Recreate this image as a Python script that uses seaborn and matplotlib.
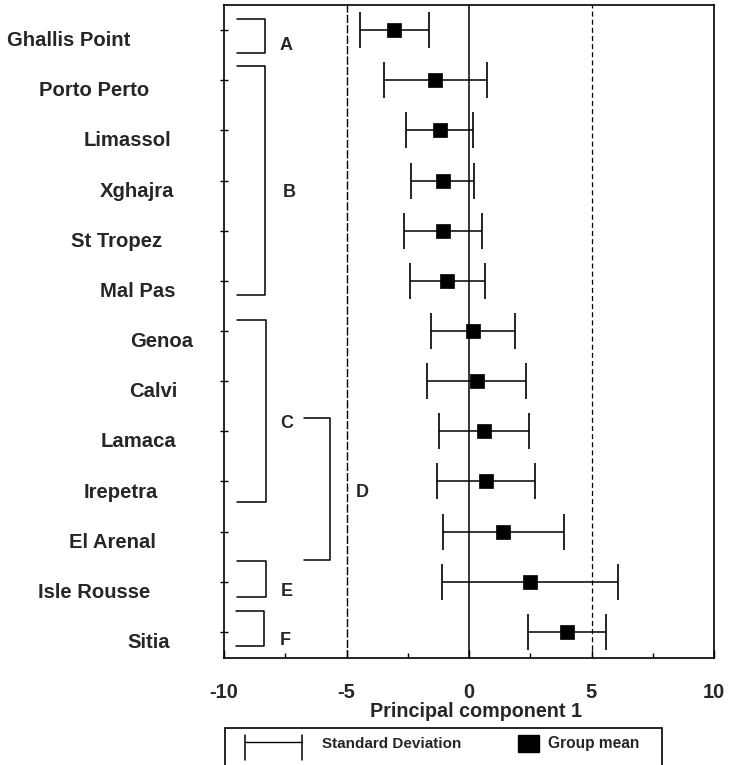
import numpy as np
import pandas as pd
import matplotlib
matplotlib.use("Agg")
import matplotlib.pyplot as plt
import matplotlib.transforms as mtransforms
from matplotlib.lines import Line2D
from matplotlib.patches import Rectangle
from matplotlib.ticker import MultipleLocator
import seaborn as sns

# ---- data -------------------------------------------------------------
sites = ["Ghallis Point", "Porto Perto", "Limassol", "Xghajra", "St Tropez",
         "Mal Pas", "Genoa", "Calvi", "Lamaca", "Irepetra", "El Arenal",
         "Isle Rousse", "Sitia"]
group_mean = [-3.05, -1.37, -1.20, -1.08, -1.07, -0.89, 0.17, 0.32, 0.61,
              0.70, 1.40, 2.50, 3.99]
group_sd = [1.40, 2.10, 1.36, 1.27, 1.60, 1.53, 1.72, 2.02, 1.85, 2.00,
            2.48, 3.59, 1.60]
x_ticks = [-10, -5, 0, 5, 10]

# cluster groupings: letter, first row, last row
groups = [("A", 0, 0), ("B", 1, 5), ("C", 6, 9), ("D", 8, 10),
          ("E", 11, 11), ("F", 12, 12)]

# ---- layout (annotation geometry) ------------------------------------
# horizontal centres (figure px) of the site labels
label_cx = [69, 94, 127, 137, 117, 138, 162, 153, 138, 121, 112, 94, 149]
# bracket geometry: x_left, x_right, y_top, y_bottom (data units)
bracket_geom = {"A": (-9.45, -8.32, -0.23, 0.45),
                "B": (-9.45, -8.32, 0.72, 5.28),
                "C": (-9.45, -8.30, 5.78, 9.41),
                "D": (-6.75, -5.66, 7.73, 10.56),
                "E": (-9.45, -8.30, 10.58, 11.30),
                "F": (-9.50, -8.35, 11.58, 12.29)}
letter_pos = {"A": (-7.73, 0.40), "B": (-7.62, 3.32), "C": (-7.72, 7.94),
              "D": (-4.63, 9.31), "E": (-7.69, 11.28), "F": (-7.74, 12.27)}

sns.set_theme(style="ticks")
plt.rcParams["font.family"] = ["Liberation Sans", "DejaVu Sans"]
plt.rcParams["font.weight"] = "bold"
plt.rcParams["axes.labelweight"] = "bold"

W, H = 729, 765
fig = plt.figure(figsize=(W / 100, H / 100), dpi=100)
fig.patch.set_facecolor("white")
ax = fig.add_axes([224 / W, 1 - 658 / H, (714 - 224) / W, (658 - 5) / H])

rows = np.arange(len(sites))
df = pd.DataFrame({"site": sites, "mean": group_mean, "sd": group_sd,
                   "row": rows})

# reference lines
ax.axvline(-5, color="black", lw=1.0, ls=(0, (6, 1.5)), zorder=1)
ax.axvline(0, color="black", lw=1.1, zorder=1)
ax.axvline(5, color="black", lw=0.9, ls=(0, (4, 2.5)), zorder=1)

# standard deviation bars and group means
ax.errorbar(df["mean"], df["row"], xerr=df["sd"], fmt="none",
            ecolor="black", elinewidth=1.1, capsize=13, capthick=1.2,
            zorder=2)
sns.scatterplot(data=df, x="mean", y="row", marker="s", s=115,
                color="black", edgecolor="black", linewidth=0.5,
                ax=ax, zorder=3, legend=False)

ax.set_xlim(-10, 10)
ax.set_ylim(12.52, -0.5)

ax.set_xticks(x_ticks)
ax.set_xticklabels([str(t) for t in x_ticks])
ax.xaxis.set_minor_locator(MultipleLocator(2.5))
ax.tick_params(axis="x", which="major", direction="in", length=6, width=1,
               labelsize=14.5, pad=18, color="black", bottom=True, top=False)
ax.tick_params(axis="x", which="minor", direction="in", length=3.5,
               width=1, color="black", bottom=True, top=False)
ax.set_yticks(rows)
ax.set_yticklabels([])
ax.tick_params(axis="y", direction="inout", length=6, width=1,
               color="black", left=True, right=False)
ax.set_ylabel("")
ax.set_xlabel("Principal component 1", fontsize=14.2, fontweight="bold")
ax.xaxis.set_label_coords(0.515, -0.068)

for sp in ax.spines.values():
    sp.set_color("black")
    sp.set_linewidth(1.2)
    sp.set_visible(True)

# site labels
trans = mtransforms.blended_transform_factory(fig.transFigure, ax.transData)
for name, r, cx in zip(sites, rows, label_cx):
    ax.text(cx / W, r + 0.32, name, transform=trans, ha="center",
            va="baseline", fontsize=14.6, fontweight="bold", clip_on=False)

# cluster brackets and letters
for letter, r0, r1 in groups:
    xl, xr, yt, yb = bracket_geom[letter]
    ax.plot([xl, xr, xr, xl], [yt, yt, yb, yb], color="black", lw=1.1,
            zorder=2)
    lx, ly = letter_pos[letter]
    ax.text(lx, ly, letter, ha="left", va="baseline", fontsize=13,
            fontweight="bold")

# key box below the axis title
def fx(px):
    return px / W


def fy(py):
    return 1 - py / H


fig.add_artist(Rectangle((fx(225), fy(790)), fx(662) - fx(225),
                         fy(728) - fy(790), fill=False, lw=1.2,
                         edgecolor="black", transform=fig.transFigure,
                         clip_on=False))
fig.add_artist(Line2D([fx(245), fx(302)], [fy(742), fy(742)], color="black",
                      lw=1.0, transform=fig.transFigure))
for cx in (245, 302):
    fig.add_artist(Line2D([fx(cx), fx(cx)], [fy(735), fy(760)],
                          color="black", lw=1.1,
                          transform=fig.transFigure))
fig.text(fx(322), fy(748), "Standard Deviation", fontsize=11,
         fontweight="bold", ha="left", va="baseline")
fig.add_artist(Rectangle((fx(518), fy(752)), fx(539) - fx(518),
                         fy(735) - fy(752), facecolor="black",
                         edgecolor="black", transform=fig.transFigure))
fig.text(fx(548), fy(748), "Group mean", fontsize=11.2, fontweight="bold",
         ha="left", va="baseline")

fig.savefig("out.png", dpi=100, facecolor="white")
